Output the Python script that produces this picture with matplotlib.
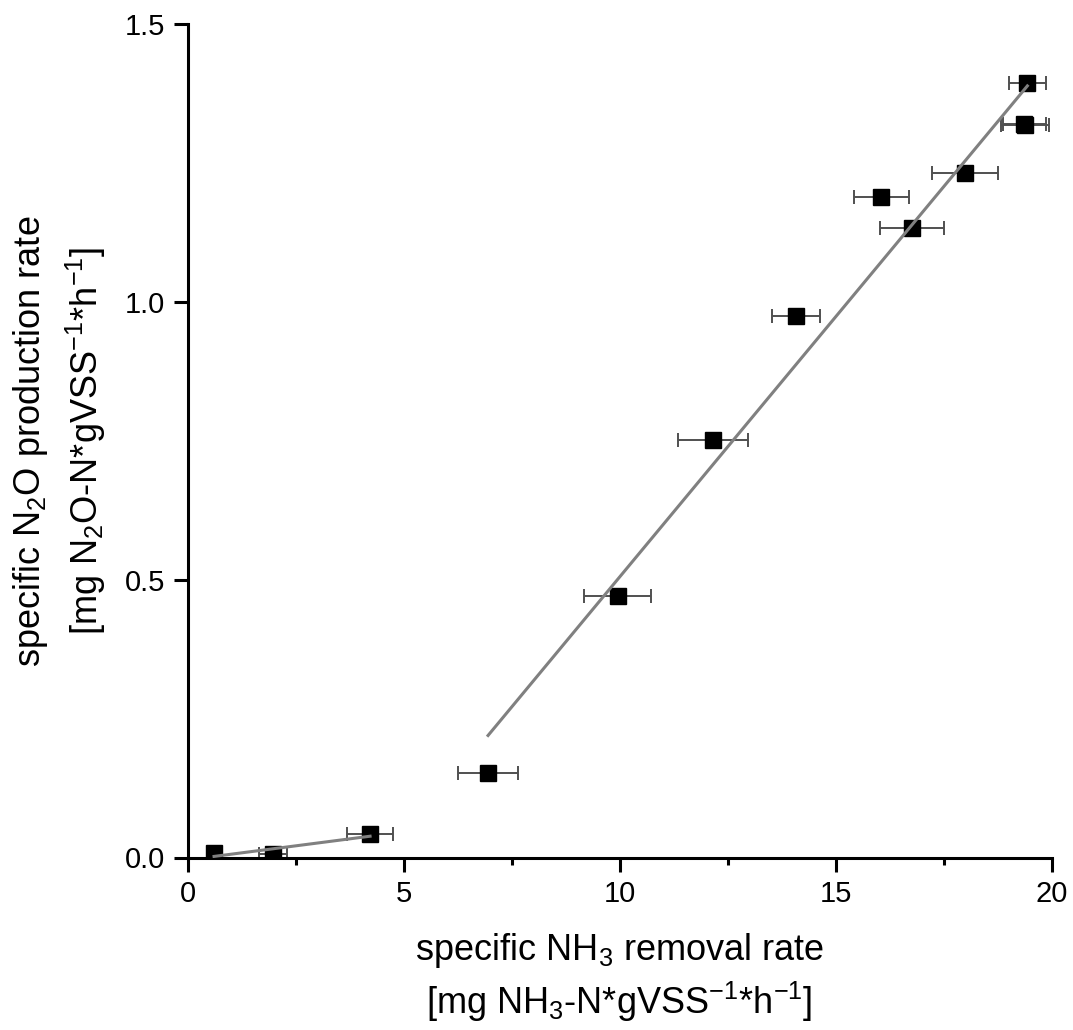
import numpy as np
import matplotlib
matplotlib.use("Agg")
import matplotlib.pyplot as plt

plt.rcParams['font.family'] = ['Liberation Sans', 'DejaVu Sans']
plt.rcParams['mathtext.fontset'] = 'custom'
plt.rcParams['mathtext.rm'] = 'Liberation Sans'
plt.rcParams['mathtext.it'] = 'Liberation Sans:italic'
plt.rcParams['mathtext.bf'] = 'Liberation Sans:bold'

nh3_rate = [0.61, 1.98, 4.22, 6.95, 9.95, 12.16, 14.08, 16.05, 16.76, 17.99, 19.38, 19.36, 19.43]
n2o_rate = [0.008, 0.006, 0.042, 0.152, 0.471, 0.751, 0.975, 1.189, 1.133, 1.231, 1.318, 1.320, 1.394]
nh3_err = [0.10, 0.32, 0.54, 0.69, 0.78, 0.81, 0.56, 0.64, 0.73, 0.76, 0.55, 0.49, 0.42]

# Bereiche der beiden linearen Regressionen (Indizes)
low_fit = slice(0, 3)
high_fit = slice(3, 13)

x_ticks = [0, 5, 10, 15, 20]
y_ticks = [0.0, 0.5, 1.0, 1.5]

x = np.array(nh3_rate)
y = np.array(n2o_rate)

fig = plt.figure(figsize=(10.73, 10.30), dpi=100)
ax = fig.add_axes([187.7 / 1073, 1 - 857.5 / 1030, (1052 - 187.7) / 1073, (857.5 - 24) / 1030])

ax.errorbar(x, y, xerr=nh3_err, fmt='none', ecolor='#505050', elinewidth=1.4,
            capsize=5, capthick=1.4, zorder=2)
ax.plot(x, y, 's', color='black', markersize=11, zorder=3)

# lineare Regressionen
for part in (low_fit, high_fit):
    xs, ys = x[part], y[part]
    k, d = np.polyfit(xs, ys, 1)
    xx = np.array([xs.min(), xs.max()])
    ax.plot(xx, k * xx + d, color='#808080', linewidth=2.2, zorder=4)

ax.set_xlim(0, 20)
ax.set_ylim(0, 1.5)
ax.set_xticks(x_ticks)
ax.set_yticks(y_ticks)
ax.set_xticklabels([str(t) for t in x_ticks])
ax.set_yticklabels([f'{t:.1f}' for t in y_ticks])
ax.set_xticks(np.arange(2.5, 20, 5), minor=True)

for side in ('top', 'right'):
    ax.spines[side].set_visible(False)
for side in ('left', 'bottom'):
    ax.spines[side].set_linewidth(2.2)

ax.tick_params(axis='both', which='major', direction='out', length=10, width=2.2,
               labelsize=21, pad=6.5)
ax.tick_params(axis='x', which='minor', direction='out', length=5, width=2.2)

# Achsenbeschriftungen
fig.text(619.5 / 1073, 1 - 960 / 1030, 'specific NH$_3$ removal rate',
         ha='center', va='baseline', fontsize=26)
fig.text(619.5 / 1073, 1 - 1014 / 1030, '[mg NH$_3$-N*gVSS$^{-1}$*h$^{-1}$]',
         ha='center', va='baseline', fontsize=26)
fig.text(40 / 1073, 1 - 441 / 1030, 'specific N$_2$O production rate',
         ha='center', va='baseline', rotation=90, rotation_mode='anchor', fontsize=26)
fig.text(98 / 1073, 1 - 441 / 1030, '[mg N$_2$O-N*gVSS$^{-1}$*h$^{-1}$]',
         ha='center', va='baseline', rotation=90, rotation_mode='anchor', fontsize=26)

fig.savefig('out.png', dpi=100)
